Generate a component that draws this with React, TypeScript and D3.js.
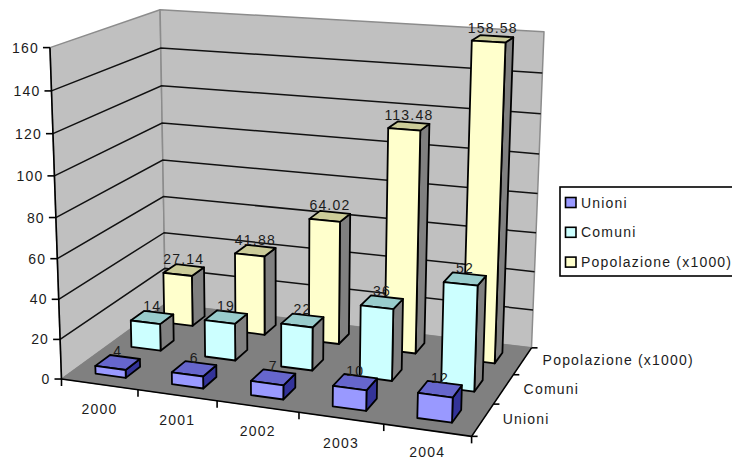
import React from "react";
import * as d3 from "d3";

const years = ["2000", "2001", "2002", "2003", "2004"];
const seriesNames = ["Unioni", "Comuni", "Popolazione (x1000)"];
const unioni = [4, 6, 7, 10, 12];
const comuni = [14, 19, 22, 36, 52];
const popolazione = [27.14, 41.88, 64.02, 113.48, 158.58];
const seriesValues = [unioni, comuni, popolazione];
const valueTicks = [0, 20, 40, 60, 80, 100, 120, 140, 160];

const frontFill = ["#9999ff", "#ccffff", "#ffffcc"];
const topFill = ["#6666cc", "#99cccc", "#cccc99"];
const sideFill = ["#333399", "#808080", "#808080"];

const FONT = "'Liberation Sans', Arial, sans-serif";
const INK = "#1c1c1c";

// Cube corners (x, depth, height) and where the camera places them on screen.
const cameraAnchors: [number, number, number, number, number][] = [
  [0, 0, 0, 62, 379],
  [1, 0, 0, 471, 437],
  [1, 1, 0, 532, 347],
  [0, 1, 0, 165, 304],
  [0, 0, 1, 50, 47],
  [0, 1, 1, 160, 10],
  [1, 1, 1, 544, 32],
];

// Least-squares fit of a 3x4 projective camera (last coefficient fixed to 1).
function fitCamera(anchors: typeof cameraAnchors): number[] {
  const rows: number[][] = [];
  const rhs: number[] = [];
  for (const [x, y, z, u, v] of anchors) {
    rows.push([x, y, z, 1, 0, 0, 0, 0, -u * x, -u * y, -u * z]);
    rhs.push(u);
    rows.push([0, 0, 0, 0, x, y, z, 1, -v * x, -v * y, -v * z]);
    rhs.push(v);
  }
  const n = 11;
  const m = d3.range(n).map((i) =>
    d3.range(n + 1).map((j) =>
      j < n
        ? d3.sum(rows, (r) => r[i] * r[j])
        : d3.sum(rows, (r, k) => r[i] * rhs[k])
    )
  );
  for (let c = 0; c < n; c++) {
    let best = c;
    for (let r = c + 1; r < n; r++) if (Math.abs(m[r][c]) > Math.abs(m[best][c])) best = r;
    [m[c], m[best]] = [m[best], m[c]];
    for (let r = 0; r < n; r++) {
      if (r === c) continue;
      const f = m[r][c] / m[c][c];
      for (let k = c; k <= n; k++) m[r][k] -= f * m[c][k];
    }
  }
  return m.map((row, i) => row[n] / row[i]);
}

const cam = fitCamera(cameraAnchors);
type Pt = [number, number];
function project(x: number, y: number, z: number): Pt {
  const w = cam[8] * x + cam[9] * y + cam[10] * z + 1;
  return [
    (cam[0] * x + cam[1] * y + cam[2] * z + cam[3]) / w,
    (cam[4] * x + cam[5] * y + cam[6] * z + cam[7]) / w,
  ];
}

const xBand = d3.scaleBand<string>().domain(years).range([0, 1]);
const depthBand = d3.scaleBand<string>().domain(seriesNames).range([0, 1]);
const height = d3.scaleLinear().domain([0, 160]).range([0, 1]);

const xInner = d3.scaleBand<string>().domain(years).range([0, 1]).paddingInner(0.6).paddingOuter(0.3);
const depthInner = d3.scaleBand<string>().domain(seriesNames).range([0, 1]).paddingInner(0.6).paddingOuter(0.3);

const pathOf = (pts: Pt[]) => `M${pts.map((p) => p.map((n) => n.toFixed(1)).join(",")).join("L")}Z`;

function Face({ pts, fill, stroke = "#000", sw = 1.8 }: { pts: Pt[]; fill: string; stroke?: string; sw?: number }) {
  return <path d={pathOf(pts)} fill={fill} stroke={stroke} strokeWidth={sw} strokeLinejoin="round" />;
}

function Label({ x, y, children, anchor = "middle", size = 14, spacing = 1.2 }: any) {
  return (
    <text x={x} y={y} textAnchor={anchor} dominantBaseline="central" fontFamily={FONT} fontSize={size} letterSpacing={spacing} fill={INK}>
      {children}
    </text>
  );
}

function Bar({ s, c }: { s: number; c: number }) {
  const year = years[c];
  const name = seriesNames[s];
  const x0 = xInner(year)!;
  const x1 = x0 + xInner.bandwidth();
  const y0 = depthInner(name)!;
  const y1 = y0 + depthInner.bandwidth();
  const z = height(seriesValues[s][c]);
  return (
    <g>
      <Face pts={[project(x1, y0, 0), project(x1, y1, 0), project(x1, y1, z), project(x1, y0, z)]} fill={sideFill[s]} />
      <Face pts={[project(x0, y0, z), project(x1, y0, z), project(x1, y1, z), project(x0, y1, z)]} fill={topFill[s]} />
      <Face pts={[project(x0, y0, 0), project(x1, y0, 0), project(x1, y0, z), project(x0, y0, z)]} fill={frontFill[s]} />
    </g>
  );
}

function ValueLabel({ s, c }: { s: number; c: number }) {
  const year = years[c];
  const name = seriesNames[s];
  const v = seriesValues[s][c];
  const [px, py] = project(
    xInner(year)! + xInner.bandwidth() / 2,
    depthInner(name)! + depthInner.bandwidth() / 2,
    height(v)
  );
  return <Label x={px} y={py - 11}>{String(v)}</Label>;
}

export default function App() {
  const wallLeft = [project(0, 0, 0), project(0, 1, 0), project(0, 1, 1), project(0, 0, 1)];
  const wallBack = [project(0, 1, 0), project(1, 1, 0), project(1, 1, 1), project(0, 1, 1)];
  const floor = [project(0, 0, 0), project(1, 0, 0), project(1, 1, 0), project(0, 1, 0)];
  const xEdges = [...years.map((y) => xBand(y)!), 1];
  const depthEdges = [...seriesNames.map((n) => depthBand(n)!), 1];
  const order = d3.range(seriesNames.length).reverse();

  return (
    <svg width={732} height={461} style={{ position: "absolute", left: 0, top: 0 }}>
      <rect width={732} height={461} fill="#fff" />
      <Face pts={wallLeft} fill="#c0c0c0" stroke="#8c8c8c" sw={1.5} />
      <Face pts={wallBack} fill="#c0c0c0" stroke="#8c8c8c" sw={1.5} />
      <Face pts={floor} fill="#808080" stroke="#808080" sw={1} />

      {valueTicks.filter((t) => t > 0 && t < 160).map((t) => {
        const a = project(0, 0, height(t));
        const b = project(0, 1, height(t));
        const e = project(1, 1, height(t));
        return <polyline key={t} points={[a, b, e].map((p) => p.join(",")).join(" ")} fill="none" stroke="#111" strokeWidth={1.5} />;
      })}

      {/* value axis */}
      <line x1={project(0, 0, 0)[0]} y1={project(0, 0, 0)[1]} x2={project(0, 0, 1)[0]} y2={project(0, 0, 1)[1]} stroke="#000" strokeWidth={1.6} />
      {valueTicks.map((t) => {
        const [px, py] = project(0, 0, height(t));
        return (
          <g key={t}>
            <line x1={px - 7} y1={py} x2={px} y2={py} stroke="#000" strokeWidth={1.6} />
            <Label x={px - 11} y={py} anchor="end">{String(t)}</Label>
          </g>
        );
      })}

      {/* category axis */}
      <line x1={project(0, 0, 0)[0]} y1={project(0, 0, 0)[1]} x2={project(1, 0, 0)[0]} y2={project(1, 0, 0)[1]} stroke="#000" strokeWidth={1.6} />
      {xEdges.map((e) => {
        const [px, py] = project(e, 0, 0);
        return <line key={e} x1={px} y1={py} x2={px} y2={py + 7} stroke="#000" strokeWidth={1.6} />;
      })}
      {years.map((y) => {
        const [px, py] = project(xBand(y)! + xBand.bandwidth() / 2, 0, 0);
        // The last year sits against the bottom of the canvas, so keep it inside.
        return <Label key={y} x={px} y={Math.min(py + 25, 452)}>{y}</Label>;
      })}

      {/* depth axis */}
      <line x1={project(1, 0, 0)[0]} y1={project(1, 0, 0)[1]} x2={project(1, 1, 0)[0]} y2={project(1, 1, 0)[1]} stroke="#000" strokeWidth={1.6} />
      {depthEdges.map((e) => {
        const [px, py] = project(1, e, 0);
        return <line key={e} x1={px} y1={py} x2={px + 6} y2={py} stroke="#000" strokeWidth={1.6} />;
      })}
      {seriesNames.map((n) => {
        const [px, py] = project(1, depthBand(n)! + depthBand.bandwidth() / 2, 0);
        return <Label key={n} x={px + 20} y={py - 0.5} anchor="start">{n}</Label>;
      })}

      {order.map((s) => (
        <g key={s}>
          {years.map((_, c) => <Bar key={c} s={s} c={c} />)}
          {years.map((_, c) => <ValueLabel key={c} s={s} c={c} />)}
        </g>
      ))}

      {/* legend */}
      <rect x={560} y={187} width={190} height={89} fill="#fff" stroke="#000" strokeWidth={1.6} />
      {seriesNames.map((n, i) => {
        const cy = 202.5 + i * 29.8;
        return (
          <g key={n}>
            <rect x={565.5} y={cy - 5} width={10.5} height={10} fill={frontFill[i]} stroke="#000" strokeWidth={1.6} />
            <Label x={581} y={cy} anchor="start">{n}</Label>
          </g>
        );
      })}
    </svg>
  );
}
